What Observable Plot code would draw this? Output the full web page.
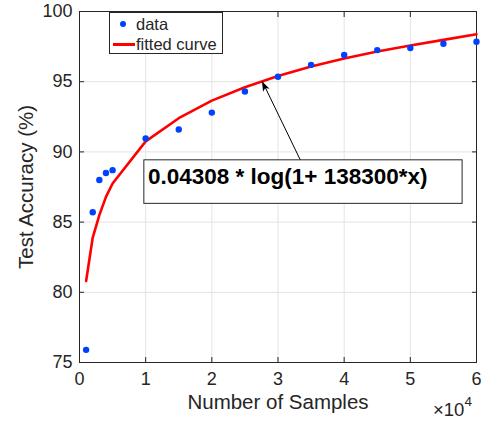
<!DOCTYPE html>
<html>
<head>
<meta charset="utf-8">
<script src="https://cdn.jsdelivr.net/npm/d3@7"></script>
<script src="https://cdn.jsdelivr.net/npm/@observablehq/plot@0.6"></script>
<style>
  html, body { margin: 0; padding: 0; background: #fff; }
  #wrap { position: relative; width: 484px; height: 422px; font-family: "Liberation Sans", Arial, sans-serif; color: #262626; }
  #legend { position: absolute; left: 109px; top: 12px; width: 112px; height: 40px; background: #fff; border: 1px solid #262626; font-size: 16.5px; }
  #legend .row { position: absolute; left: 0; height: 20px; line-height: 20px; }
  #legend .lbl { position: absolute; left: 26px; white-space: nowrap; }
  #legend .dot { position: absolute; left: 10px; top: 7px; width: 6px; height: 6px; border-radius: 50%; background: #0040ff; }
  #legend .ln { position: absolute; left: 3px; top: 9px; width: 22px; height: 3px; background: #ff0000; }
  #exp { position: absolute; left: 433px; top: 397px; font-size: 18.5px; white-space: nowrap; }
  #exp sup { font-size: 13.5px; position: relative; top: -3px; }
</style>
</head>
<body>
<div id="wrap">
  <div id="chart"></div>
  <div id="legend">
    <div class="row" style="top:1px;"><span class="dot"></span><span class="lbl">data</span></div>
    <div class="row" style="top:21px;"><span class="ln"></span><span class="lbl">fitted curve</span></div>
  </div>
  <div id="exp">×10<sup>4</sup></div>
</div>
<script>
// Data
const samples = [1000, 2000, 3000, 4000, 5000, 10000, 15000, 20000, 25000, 30000, 35000, 40000, 45000, 50000, 55000, 60000];
const accuracy = [75.9, 85.7, 88.0, 88.5, 88.7, 90.95, 91.6, 92.8, 94.3, 95.35, 96.2, 96.9, 97.25, 97.4, 97.7, 97.85];
const fitted = [80.8, 83.9, 85.5, 86.8, 87.75, 90.75, 92.4, 93.65, 94.6, 95.4, 96.08, 96.65, 97.15, 97.58, 97.98, 98.38];
const xTicks = [0, 10000, 20000, 30000, 40000, 50000, 60000];
const yTicks = [75, 80, 85, 90, 95, 100];
const annotationText = "0.04308 * log(1+ 138300*x)";
const annotationBox = [{x1: 9800, x2: 57900, y1: 86.3, y2: 89.4}];
const annotationTextPos = [{x: 10350, y: 88.2}];
const arrowPos = [{x1: 33400, y1: 89.4, x2: 27650, y2: 95.0}];

const pts = samples.map((s, i) => ({x: s, y: accuracy[i]}));
const fit = samples.map((s, i) => ({x: s, y: fitted[i]}));

const ink = "#262626";
const gridColor = "#e3e3e3";

const chart = Plot.plot({
  width: 484,
  height: 422,
  marginLeft: 79,
  marginRight: 8,
  marginTop: 11,
  marginBottom: 60,
  style: {fontFamily: "'Liberation Sans', Arial, sans-serif", color: ink, background: "#fff"},
  x: {domain: [0, 60000]},
  y: {domain: [75, 100]},
  marks: [
    Plot.gridX(xTicks, {stroke: gridColor, strokeOpacity: 1}),
    Plot.gridY(yTicks, {stroke: gridColor, strokeOpacity: 1}),
    Plot.axisX(xTicks, {anchor: "bottom", tickSize: 0, tickPadding: 10, fontSize: 18, tickFormat: d => d / 1e4, label: null}),
    Plot.axisX([], {anchor: "bottom", tickSize: 0, fontSize: 20.5,
      label: "Number of Samples", labelAnchor: "center", labelArrow: "none", labelOffset: 46}),
    Plot.axisX(xTicks, {anchor: "bottom", tickSize: -5, text: null, label: null, stroke: ink}),
    Plot.axisX(xTicks, {anchor: "top", tickSize: -5, text: null, label: null, stroke: ink}),
    Plot.axisY(yTicks, {anchor: "left", tickSize: 0, tickPadding: 7, fontSize: 18, label: null}),
    Plot.axisY([], {anchor: "left", tickSize: 0, fontSize: 20.5,
      label: "Test Accuracy (%)", labelAnchor: "center", labelArrow: "none", labelOffset: 61}),
    Plot.axisY(yTicks, {anchor: "left", tickSize: -5, text: null, label: null, stroke: ink}),
    Plot.axisY(yTicks, {anchor: "right", tickSize: -5, text: null, label: null, stroke: ink}),
    Plot.frame({stroke: ink, strokeWidth: 1}),
    Plot.line(fit, {x: "x", y: "y", stroke: "#ff0000", strokeWidth: 2.6}),
    Plot.dot(pts, {x: "x", y: "y", r: 3.2, fill: "#0040ff"}),
    Plot.link(arrowPos, {x1: "x1", y1: "y1", x2: "x2", y2: "y2", stroke: "#000", strokeWidth: 1}),
    Plot.rect(annotationBox, {x1: "x1", x2: "x2", y1: "y1", y2: "y2", fill: "#fff", stroke: ink, strokeWidth: 1}),
    Plot.text(annotationTextPos, {x: "x", y: "y", text: () => annotationText, textAnchor: "start", fontSize: 22.5, fontWeight: "bold", fill: "#000"})
  ]
});

// Filled arrow head at the arrow's tip, placed through the plot's own scales
(function () {
  const sx = chart.scale("x"), sy = chart.scale("y");
  const a = arrowPos[0];
  const tx = sx.apply(a.x2), ty = sy.apply(a.y2);
  const fx = sx.apply(a.x1), fy = sy.apply(a.y1);
  const len = Math.hypot(tx - fx, ty - fy);
  const ux = (tx - fx) / len, uy = (ty - fy) / len;
  const L = 10, W = 3.6;
  const bx = tx - ux * L, by = ty - uy * L;
  const p1 = [bx - uy * W, by + ux * W], p2 = [bx + uy * W, by - ux * W];
  const poly = document.createElementNS("http://www.w3.org/2000/svg", "polygon");
  poly.setAttribute("points", `${tx},${ty} ${p1[0]},${p1[1]} ${bx + ux * 2.5},${by + uy * 2.5} ${p2[0]},${p2[1]}`);
  poly.setAttribute("fill", "#000");
  chart.appendChild(poly);
})();

document.getElementById("chart").appendChild(chart);
</script>
</body>
</html>
